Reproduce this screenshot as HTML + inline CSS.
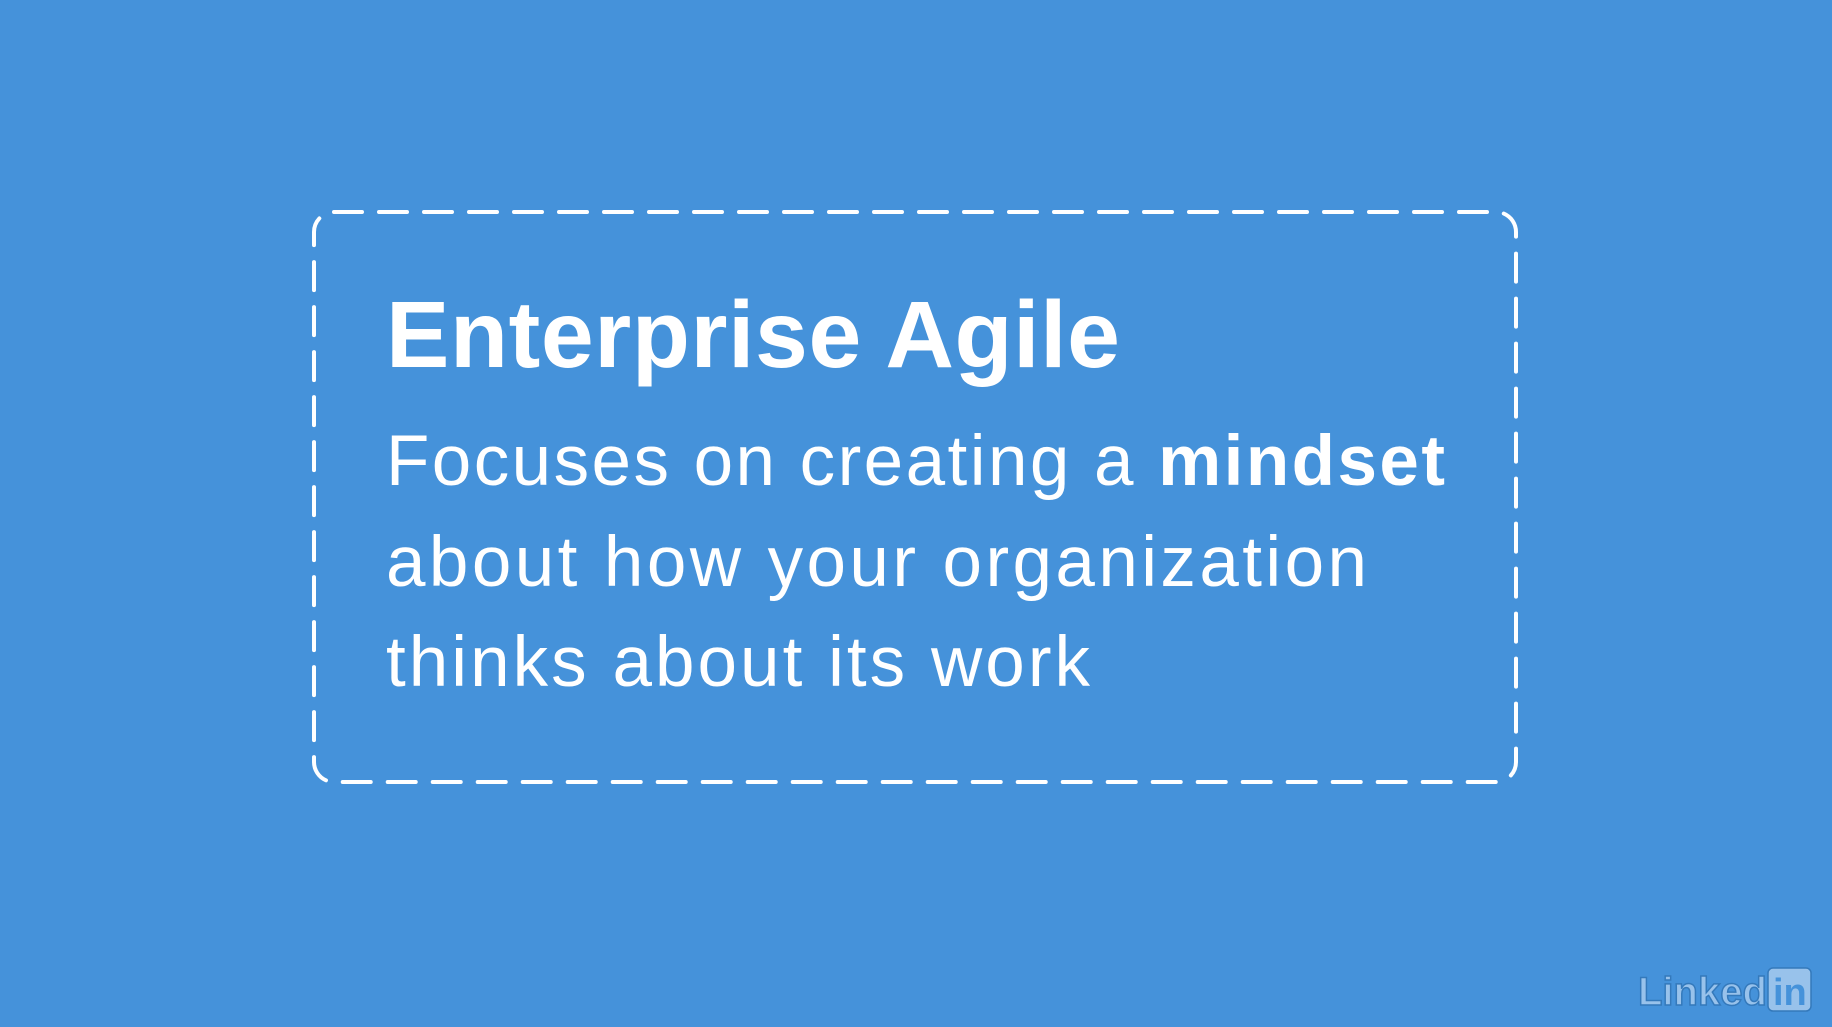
<!DOCTYPE html>
<html><head><meta charset="utf-8"><style>
html,body{margin:0;padding:0;background:#4592da;}
svg{display:block}
</style></head><body>
<svg width="1832" height="1027" viewBox="0 0 1832 1027" xmlns="http://www.w3.org/2000/svg">
<rect width="1832" height="1027" fill="#4592da"/>
<rect x="314" y="212" width="1202" height="570" rx="20" ry="20" fill="none" stroke="#fff" stroke-width="4" stroke-dasharray="28 17" stroke-linecap="round"/>
<text x="386" y="367" font-family="Liberation Sans, sans-serif" font-weight="bold" font-size="95" fill="#fff" textLength="734" lengthAdjust="spacing">Enterprise Agile</text>
<g font-family="Liberation Sans, sans-serif" font-size="71" fill="#fff">
<text x="386" y="485" textLength="1059" lengthAdjust="spacing">Focuses on creating a <tspan font-weight="bold">mindset</tspan></text>
<text x="386" y="586" textLength="981" lengthAdjust="spacing">about how your organization</text>
<text x="386" y="686" textLength="704" lengthAdjust="spacing">thinks about its work</text>
</g>
<g opacity="0.6">
<text x="1638" y="1005" font-family="Liberation Sans, sans-serif" font-weight="bold" font-size="40" fill="#cfe3f7" stroke="#2a6aa8" stroke-width="1.5">Linked</text>
<rect x="1768" y="968" width="43" height="43" rx="5" fill="#cfe3f7" stroke="#2a6aa8" stroke-width="1.5"/>
<text x="1773" y="1005" font-family="Liberation Sans, sans-serif" font-weight="bold" font-size="38" fill="#4592da">in</text>
</g>
</svg>
</body></html>
